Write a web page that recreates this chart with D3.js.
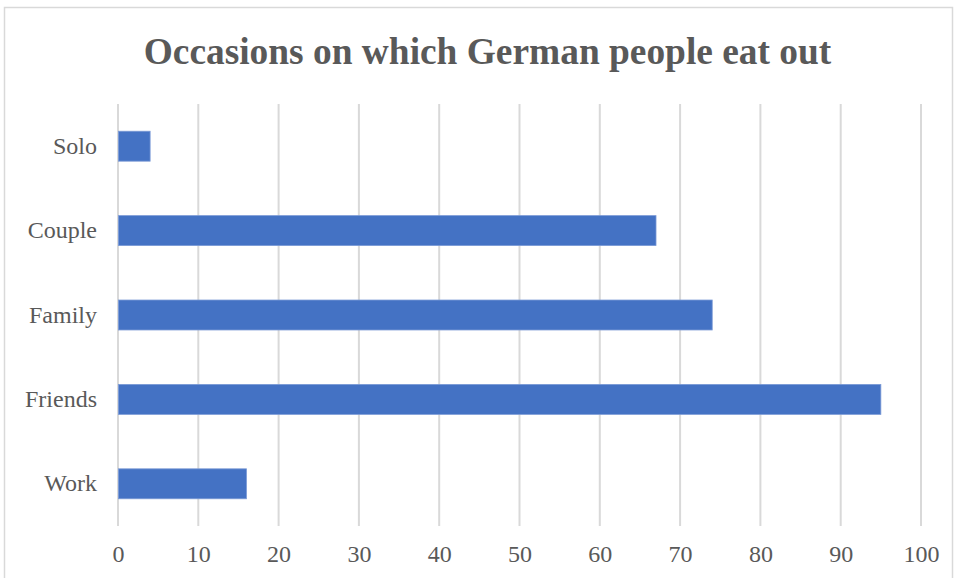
<!DOCTYPE html>
<html>
<head>
<meta charset="utf-8">
<script src="https://cdn.jsdelivr.net/npm/d3@7"></script>
<style>
  html, body { margin: 0; padding: 0; background: #fff; }
  svg { display: block; }
</style>
</head>
<body>
<svg id="chart" width="956" height="578"></svg>
<script>
// Occasions on which German people eat out (values in %)
const categories = ["Solo", "Couple", "Family", "Friends", "Work"];
const values = [4, 67, 74, 95, 16];
const tickValues = [0, 10, 20, 30, 40, 50, 60, 70, 80, 90, 100];
const title = "Occasions on which German people eat out";

const svg = d3.select("#chart");
const W = 956, H = 578;
const margin = { left: 118, right: 35, top: 104, bottom: 52 };
const font = "'Liberation Serif', 'Times New Roman', serif";
const textColor = "#595959";

// outer chart frame
svg.append("rect")
  .attr("x", 4.5).attr("y", 7.5)
  .attr("width", 948).attr("height", 600)
  .attr("fill", "#fff")
  .attr("stroke", "#d9d9d9").attr("stroke-width", 1.5);

svg.append("text")
  .attr("x", 487.5).attr("y", 64)
  .attr("text-anchor", "middle")
  .attr("font-family", font)
  .attr("font-weight", "bold")
  .attr("font-size", 37.4)
  .attr("fill", textColor)
  .text(title);

const x = d3.scaleLinear().domain([0, 100]).range([margin.left, W - margin.right]);
const y = d3.scaleBand().domain(categories)
  .range([margin.top, H - margin.bottom])
  .paddingInner(0.645).paddingOuter(0.3225);

// vertical gridlines
svg.append("g")
  .selectAll("line")
  .data(tickValues)
  .join("line")
  .attr("x1", d => x(d)).attr("x2", d => x(d))
  .attr("y1", margin.top).attr("y2", H - margin.bottom)
  .attr("stroke", "#d9d9d9").attr("stroke-width", 2);

// bars
svg.append("g")
  .selectAll("rect")
  .data(categories.map((c, i) => ({ c, v: values[i] })))
  .join("rect")
  .attr("x", x(0) + 0.5)
  .attr("y", d => y(d.c))
  .attr("width", d => x(d.v) - x(0) - 0.5)
  .attr("height", y.bandwidth())
  .attr("fill", "#4472c4")
  .attr("stroke", "#7b9ad6").attr("stroke-width", 0.8);

// x axis labels
const xAxis = d3.axisBottom(x).tickValues(tickValues).tickSize(0).tickPadding(0);
const gx = svg.append("g")
  .attr("transform", `translate(0, ${H - margin.bottom})`)
  .call(xAxis);
gx.select(".domain").remove();
gx.selectAll("text")
  .attr("y", 0).attr("dy", "1.52em")
  .attr("font-family", font).attr("font-size", 24)
  .attr("fill", textColor);

// category labels
const yAxis = d3.axisLeft(y).tickSize(0).tickPadding(21);
const gy = svg.append("g")
  .attr("transform", `translate(${margin.left}, 0)`)
  .call(yAxis);
gy.select(".domain").remove();
gy.selectAll("text")
  .attr("font-family", font).attr("font-size", 24)
  .attr("fill", textColor);
</script>
</body>
</html>
